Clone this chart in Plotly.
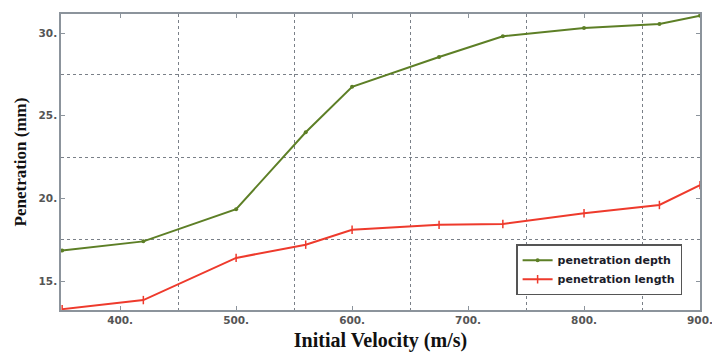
import plotly.graph_objects as go

velocity = [350, 420, 500, 560, 600, 675, 730, 800, 865, 900]
penetration_depth = [16.85, 17.4, 19.35, 24.0, 26.75, 28.55, 29.8, 30.3, 30.55, 31.05]
penetration_length = [13.3, 13.85, 16.4, 17.2, 18.1, 18.4, 18.45, 19.1, 19.6, 20.8]

x_tickvals = [400, 500, 600, 700, 800, 900]
x_ticktext = ["400.", "500.", "600.", "700.", "800.", "900."]
y_tickvals = [15, 20, 25, 30]
y_ticktext = ["15.", "20.", "25.", "30."]
x_gridvals = [450, 550, 650, 750, 850]
y_gridvals = [17.5, 22.5, 27.5]

fig = go.Figure()
fig.add_trace(go.Scatter(
    x=velocity, y=penetration_depth, mode="lines+markers", name="penetration depth",
    line=dict(color="#5d7f26", width=2),
    marker=dict(symbol="circle", size=4, color="#5d7f26"),
))
fig.add_trace(go.Scatter(
    x=velocity, y=penetration_length, mode="lines+markers", name="penetration length",
    line=dict(color="#ee3a2c", width=2),
    marker=dict(symbol="line-ns", size=6, line=dict(color="#ee3a2c", width=1.5)),
))

axis_common = dict(
    showline=True, mirror="ticks", linecolor="#8c949c", linewidth=1.5,
    ticks="inside", ticklen=4, tickcolor="#8c949c", showgrid=False, zeroline=False,
    automargin=False, ticklabeloverflow="allow",
    tickfont=dict(family="DejaVu Sans", size=10.5, color="#555", weight="bold"),
)

fig.update_layout(
    width=712, height=354,
    margin=dict(l=61, r=12, t=14, b=44),
    paper_bgcolor="white", plot_bgcolor="white",
    xaxis=dict(
        range=[349, 900], tickvals=x_tickvals, ticktext=x_ticktext,
        minor=dict(tickvals=x_gridvals, showgrid=True, griddash="dot",
                   gridcolor="#7a8088", gridwidth=1.2, ticklen=0),
        title=dict(text="<b>Initial Velocity (m/s)</b>", standoff=8,
                   font=dict(family="Liberation Serif", size=20, color="#111")),
        **axis_common,
    ),
    yaxis=dict(
        range=[13.25, 31.15], tickvals=y_tickvals, ticktext=y_ticktext,
        minor=dict(tickvals=y_gridvals, showgrid=True, griddash="dot",
                   gridcolor="#7a8088", gridwidth=1.2, ticklen=0),
        title=dict(text="<b>Penetration (mm)</b>", standoff=8,
                   font=dict(family="Liberation Serif", size=17, color="#111")),
        **axis_common,
    ),
    legend=dict(
        x=0.972, y=0.05, xanchor="right", yanchor="bottom",
        bgcolor="white", bordercolor="#555", borderwidth=1.5,
        font=dict(family="DejaVu Sans", size=11, color="#1c1c2a", weight="bold"),
        tracegroupgap=0, itemwidth=30,
    ),
)

fig.write_html(
    "out.html",
    config={"displayModeBar": False},
    post_script="document.body.style.margin='0';document.body.style.overflow='hidden';",
)
